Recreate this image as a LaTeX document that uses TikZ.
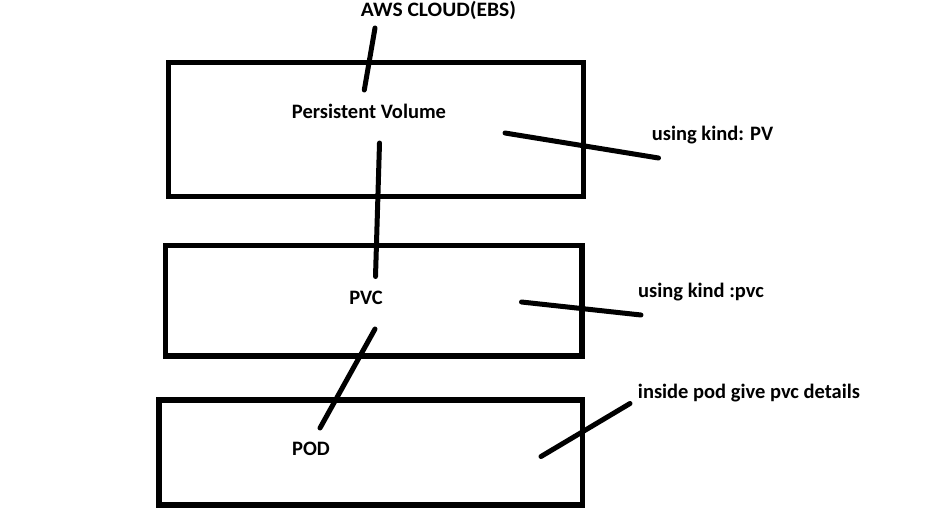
\documentclass[tikz,border=0pt]{standalone}
\usepackage{fontspec}
\usepackage{graphicx}
\setmainfont{Carlito}
\begin{document}
\begin{tikzpicture}[x=1pt,y=-1pt,
  box/.style={draw=black,line width=5.5pt,line join=miter},
  stroke/.style={draw=black,line width=5pt,line cap=round},
  lbl/.style={font=\fontsize{20.5}{22}\selectfont\bfseries,anchor=base,inner sep=0pt}]
\useasboundingbox (0,0) rectangle (936,519);
\fill[white] (0,0) rectangle (936,519);
% boxes
\draw[box] (168.5,62.5) rectangle (583.5,196.5);
\draw[box] (165.5,245.5) rectangle (582,356);
\draw[box] (159,400) rectangle (582.5,505);
% labels
\node[lbl] (aws) at (438.5,17) {\scalebox{1.05}[1]{AWS CLOUD(EBS)}};
\node[lbl] (pv) at (369,118) {Persistent Volume};
\node[lbl] (kpv) at (712.5,140) {using kind: PV};
\node[lbl] (pvc) at (366,304) {PVC};
\node[lbl] (kpvc) at (701,297.5) {using kind :pvc};
\node[lbl] (pod) at (311,455) {POD};
\node[lbl] (kpod) at (749,398.5) {inside pod give pvc details};
% stroke endpoints
\coordinate (a1) at (375,28);   \coordinate (a2) at (364.3,90);
\coordinate (b1) at (379.5,143); \coordinate (b2) at (375.5,276.5);
\coordinate (c1) at (375,329);  \coordinate (c2) at (320,428);
\coordinate (d1) at (505,133);  \coordinate (d2) at (658.5,158);
\coordinate (e1) at (521.5,302); \coordinate (e2) at (641,315);
\coordinate (f1) at (630,403.5); \coordinate (f2) at (541,456.5);
\draw[stroke] (a1) -- (a2);
\draw[stroke] (b1) -- (b2);
\draw[stroke] (c1) -- (c2);
\draw[stroke] (d1) -- (d2);
\draw[stroke] (e1) -- (e2);
\draw[stroke] (f1) -- (f2);
\end{tikzpicture}
\end{document}
